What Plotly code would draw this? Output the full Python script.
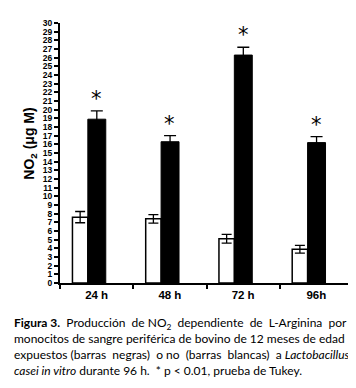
import plotly.graph_objects as go

categories = ["24 h", "48 h", "72 h", "96h"]
control = [7.6, 7.4, 5.1, 3.9]
control_err = [0.65, 0.5, 0.5, 0.45]
exposed = [18.9, 16.3, 26.3, 16.2]
exposed_err = [0.95, 0.7, 0.9, 0.7]
y_ticks = list(range(0, 31))

S = "\u00a0"
caption_lines = [
    f"<b>Figura 3.</b>{S} Producción {S}de NO<sub>2</sub>{S} dependiente {S}de {S}L-Arginina{S} por",
    "monocitos de sangre periférica de bovino de 12 meses de edad",
    f"expuestos (barras{S} negras){S} o no{S} (barras{S} blancas){S} a <i>Lactobacillus</i>",
    "<i>casei in vitro</i> durante 96 h.  * p &lt; 0.01, prueba de Tukey.",
]

fig = go.Figure()
fig.add_trace(go.Bar(
    x=categories, y=control, width=0.21, offset=-0.33,
    marker=dict(color="white", line=dict(color="black", width=1.5)),
    error_y=dict(type="data", array=control_err, color="black", thickness=1.3, width=5),
    showlegend=False,
))
fig.add_trace(go.Bar(
    x=categories, y=exposed, width=0.245, offset=-0.12,
    marker=dict(color="black", line=dict(color="black", width=1)),
    error_y=dict(type="data", array=exposed_err, color="black", thickness=1.3, width=6),
    showlegend=False,
))

for c, v, e in zip(categories, exposed, exposed_err):
    fig.add_annotation(x=c, y=v + e, text="*", showarrow=False, xshift=0, yshift=-2,
                       yanchor="bottom", font=dict(family="DejaVu Sans", size=21, color="black"))

ys = [316, 332, 348, 364]
for t, yp in zip(caption_lines, ys):
    fig.add_annotation(xref="paper", yref="paper", x=-48/293, y=(275 - yp) / 265,
                       text=t, showarrow=False, xanchor="left", yanchor="middle",
                       font=dict(family="Lato", size=12, color="black"))

fig.add_annotation(xref="paper", yref="paper", x=-30/293, y=(275 - 133) / 265,
                   text="<b>NO<sub>2</sub> (μg M)</b>", showarrow=False, textangle=-90,
                   xanchor="center", yanchor="middle",
                   font=dict(family="Liberation Sans", size=14, color="black"))

fig.update_layout(
    width=356, height=388,
    margin=dict(l=52, r=11, t=10, b=113),
    barmode="overlay",
    plot_bgcolor="white", paper_bgcolor="white",
    xaxis=dict(
        type="category", showline=True, linecolor="black", linewidth=2,
        ticks="outside", tickson="boundaries", ticklen=4, tickwidth=1.5, tickcolor="black",
        tickfont=dict(family="Liberation Sans", size=11.5, color="black", weight="bold"),
        showgrid=False, range=[-0.5, 3.5],
    ),
    yaxis=dict(
        range=[0, 30], tickvals=y_ticks, showline=True, linecolor="black", linewidth=2,
        ticks="outside", ticklen=4, tickwidth=1.5, tickcolor="black",
        tickfont=dict(family="Liberation Sans", size=8.5, color="black", weight="bold"),
        showgrid=False, zeroline=False,
    ),
)

fig.write_html("out.html")
